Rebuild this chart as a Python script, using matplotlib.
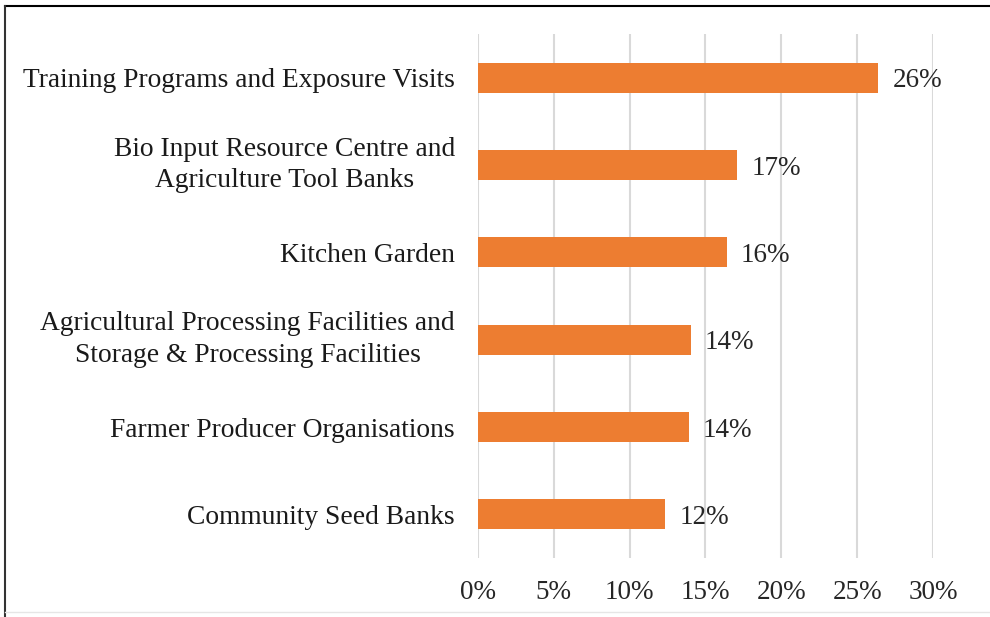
import matplotlib.pyplot as plt
from matplotlib.lines import Line2D
from matplotlib.ticker import FuncFormatter

# share of respondents per intervention (percent)
categories = [
    "Training Programs and Exposure Visits",
    "Bio Input Resource Centre and\nAgriculture Tool Banks",
    "Kitchen Garden",
    "Agricultural Processing Facilities and\nStorage & Processing Facilities",
    "Farmer Producer Organisations",
    "Community Seed Banks",
]
shares = [26.4, 17.1, 16.4, 14.05, 13.9, 12.35]
x_ticks = [0, 5, 10, 15, 20, 25, 30]

plt.rcParams['font.family'] = ['Liberation Serif', 'DejaVu Serif']

fig = plt.figure(figsize=(9.9, 6.17), dpi=100)
ax = fig.add_axes([0.4828, 0.0956, 0.4596, 0.8493])

ypos = list(range(len(categories)))
ax.barh(ypos, shares, height=0.34, color='#ED7D31', zorder=3)

for y, v in zip(ypos, shares):
    ax.annotate(f"{v:.0f}%", (v, y), xytext=(10, 0), textcoords='offset points',
                va='center_baseline', ha='left', fontsize=19.5, color='#262626')

ax.set_xlim(0, 30)
ax.set_ylim(len(categories) - 0.5, -0.5)
ax.set_xticks(x_ticks)
ax.xaxis.set_major_formatter(FuncFormatter(lambda v, p: f"{v:.0f}%"))
ax.set_yticks(ypos)
ax.set_yticklabels(categories, multialignment='center', linespacing=1.35)
# two-line labels sit centred on their bar
for lbl in ax.get_yticklabels():
    if "\n" in lbl.get_text():
        lbl.set_verticalalignment('center')

ax.tick_params(axis='y', length=0, pad=16.5, labelsize=19.8, labelcolor='#1a1a1a')
ax.tick_params(axis='x', length=0, pad=16, labelsize=19.5, labelcolor='#262626')
ax.grid(axis='x', color='#D9D9D9', linewidth=1.5, zorder=0)
for s in ax.spines.values():
    s.set_visible(False)

# frame lines around the figure
fig.add_artist(Line2D([0.005, 1.0], [0.99, 0.99], color='black', linewidth=1.5,
                      transform=fig.transFigure))
fig.add_artist(Line2D([0.005, 0.005], [0.0, 0.99], color='#333333', linewidth=1.5,
                      transform=fig.transFigure))
fig.add_artist(Line2D([0.005, 1.0], [0.008, 0.008], color='#E6E6E6', linewidth=1.0,
                      transform=fig.transFigure))

fig.savefig("out.png", dpi=100)
